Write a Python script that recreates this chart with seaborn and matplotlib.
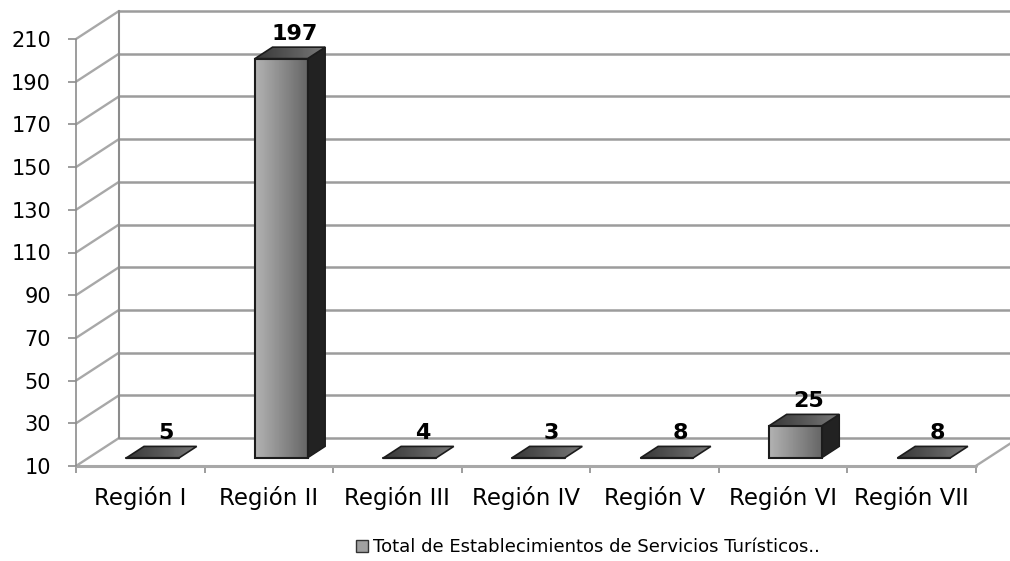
import numpy as np
import seaborn as sns
import matplotlib.pyplot as plt
from matplotlib.patches import Polygon, Rectangle

regions = ["Región I", "Región II", "Región III", "Región IV", "Región V", "Región VI", "Región VII"]
totals = [5, 197, 4, 3, 8, 25, 8]
y_ticks = [10, 30, 50, 70, 90, 110, 130, 150, 170, 190, 210]
series_name = "Total de Establecimientos de Servicios Turísticos.."

sns.set_style("white")
plt.rcParams["font.family"] = ["DejaVu Sans"]

LINE = "#9c9c9c"
DARK = "#1c1c1c"

fig = plt.figure(figsize=(10.1, 5.61), dpi=100)
ax = fig.add_axes([76 / 1010, (561 - 466) / 561, 899.7 / 1010, 427 / 561])

sns.barplot(x=regions, y=totals, width=0.41, color="#a0a0a0", saturation=1, ax=ax, zorder=3)
ax.set_xlim(-0.5, 6.5)
ax.set_ylim(10, 210)

# depth of the fake 3d box, in data units
depth_x = 43 / 128.5
depth_y = 28 / 2.135
inset = 0.29
bar_depth = 0.41

# walls and floor
for v in y_ticks:
    ax.plot([-0.5, -0.5 + depth_x], [v, v + depth_y], color="#a8a8a8", lw=1.7, clip_on=False, zorder=1)
    ax.plot([-0.5 + depth_x, 6.5 + depth_x], [v + depth_y, v + depth_y], color=LINE, lw=1.8, clip_on=False, zorder=1)
ax.plot([-0.5, 6.5], [10, 10], color="#a8a8a8", lw=2.2, clip_on=False, zorder=2)
ax.plot([6.5, 6.5 + depth_x], [10, 10 + depth_y], color="#a8a8a8", lw=1.7, clip_on=False, zorder=1)
ax.plot([-0.5, -0.5], [10, 210], color="#8c8c8c", lw=1.2, clip_on=False, zorder=2)
ax.plot([-0.5 + depth_x, -0.5 + depth_x], [10 + depth_y, 210 + depth_y], color="#8c8c8c", lw=1.5, clip_on=False, zorder=1)

front_grad = np.linspace(0.70, 0.40, 64).reshape(1, -1)
top_grad = np.linspace(0.22, 0.47, 64).reshape(1, -1)

for patch, total in zip(ax.patches, totals):
    x0 = patch.get_x() + inset * depth_x
    w = patch.get_width()
    base = 10 + inset * depth_y
    h = max(total - 10, 0)
    patch.set_visible(False)
    top = base + h
    dx = bar_depth * depth_x
    dy = bar_depth * depth_y
    if h > 0:
        ax.imshow(front_grad, extent=[x0, x0 + w, base, top], aspect="auto", cmap="gray",
                  vmin=0, vmax=1, clip_on=False, zorder=4, interpolation="bilinear")
        ax.add_patch(Rectangle((x0, base), w, h, fc="none", ec=DARK, lw=1.5, clip_on=False, zorder=6))
        ax.add_patch(Polygon([(x0 + w, base), (x0 + w + dx, base + dy), (x0 + w + dx, top + dy), (x0 + w, top)],
                             fc="#222222", ec=DARK, lw=1.0, clip_on=False, zorder=5))
    else:
        ax.plot([x0, x0 + w], [base, base], color=DARK, lw=1.6, clip_on=False, zorder=6)
    top_face = Polygon([(x0, top), (x0 + w, top), (x0 + w + dx, top + dy), (x0 + dx, top + dy)],
                       fc="none", ec=DARK, lw=1.2, clip_on=False, zorder=6)
    ax.add_patch(top_face)
    im = ax.imshow(top_grad, extent=[x0, x0 + w + dx, top, top + dy], aspect="auto", cmap="gray",
                   vmin=0, vmax=1, zorder=5, interpolation="bilinear")
    im.set_clip_path(top_face)
    ax.text(x0 + (w + dx) / 2 + 0.035, top + dy + 1.6, str(total), ha="center", va="bottom",
            fontsize=16, fontweight="bold", color="black", zorder=7, clip_on=False)

ax.set_xlim(-0.5, 6.5)
ax.set_ylim(10, 210)

sns.despine(ax=ax, left=True, bottom=True, top=True, right=True)
ax.set_yticks(y_ticks)
ax.set_xticks(np.arange(-0.5, 7), minor=True)
ax.tick_params(axis="y", left=True, length=6, width=1.2, color="#8c8c8c", labelsize=15, pad=12, labelcolor="black")
ax.tick_params(axis="x", which="major", bottom=False, labelsize=16.5, pad=11, labelcolor="black")
ax.tick_params(axis="x", which="minor", bottom=True, length=5, width=1.2, color="#8c8c8c")

handle = Rectangle((0, 0), 1, 1, fc="#a0a0a0", ec="#333333", lw=1)
fig.legend([handle], [series_name], loc="center", bbox_to_anchor=(588 / 1010, 1 - 547 / 561), frameon=False,
           fontsize=13, labelcolor="black", handlelength=0.65, handleheight=0.65, handletextpad=0.25, borderpad=0)

fig.savefig("out.png", dpi=100)
